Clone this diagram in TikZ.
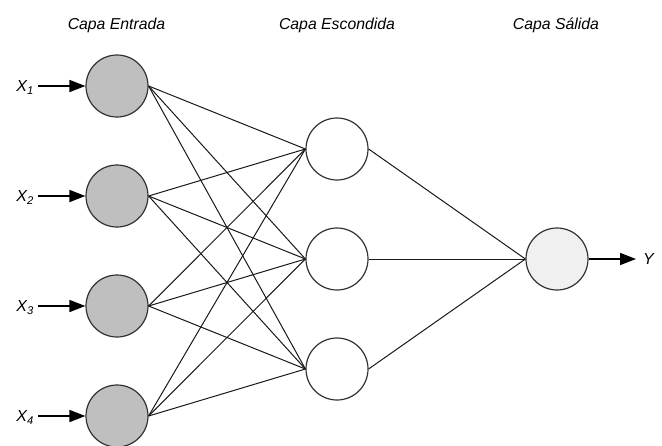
\documentclass[tikz,border=0pt]{standalone}
\usepackage{fontspec}
\setmainfont{Liberation Sans}
\usetikzlibrary{arrows.meta}
\begin{document}
\begin{tikzpicture}[x=1pt,y=-1pt,
  neuron/.style={circle,draw=black!80,line width=1.2pt,minimum size=62pt,inner sep=0pt},
  inp/.style={neuron,fill=black!25},
  hid/.style={neuron,fill=white},
  outp/.style={neuron,fill=black!6},
  layertitle/.style={font=\fontsize{15.8}{18}\selectfont\itshape,inner sep=0pt,anchor=base},
  varlab/.style={font=\fontsize{16}{18}\selectfont\itshape,inner sep=0pt},
  link/.style={draw=black!90,line width=1pt},
  arr/.style={draw=black,line width=1.6pt,-{Triangle[length=16pt,width=12pt]}}
]
\useasboundingbox (0,0) rectangle (662,445);
\clip (0,0) rectangle (662,445);

% titles
\node[layertitle] (t1) at (116.5,29.5) {Capa Entrada};
\node[layertitle] (t2) at (337,29.5) {Capa Escondida};
\node[layertitle] (t3) at (556,29.5) {Capa Sálida};

% input neurons
\node[inp] (i1) at (117,86) {};
\node[inp] (i2) at (117,196) {};
\node[inp] (i3) at (117,306) {};
\node[inp] (i4) at (117,416) {};

% hidden neurons
\node[hid] (h1) at (337,149) {};
\node[hid] (h2) at (337,259) {};
\node[hid] (h3) at (337,369) {};

% output neuron
\node[outp] (o) at (557,259) {};

% connections
\foreach \i in {1,...,4}{
  \foreach \j in {1,2,3}{
    \draw[link] (i\i.east) -- (h\j.west);
  }
}
\foreach \j in {1,2,3}{
  \draw[link] (h\j.east) -- (o.west);
}

% input labels and arrows
\foreach \k/\yy in {1/86,2/196,3/306,4/416}{
  \node[varlab,anchor=base east] (x\k) at (34,\yy+5.5) {X\textsubscript{\k}};
  \draw[arr] ([xshift=4pt]x\k.east |- i\k.west) -- (i\k.west);
}

% output label and arrow
\node[varlab,anchor=west] (ylab) at (643,259) {Y};
\draw[arr] (o.east) -- ([xshift=-7pt]ylab.west);
\end{tikzpicture}
\end{document}
